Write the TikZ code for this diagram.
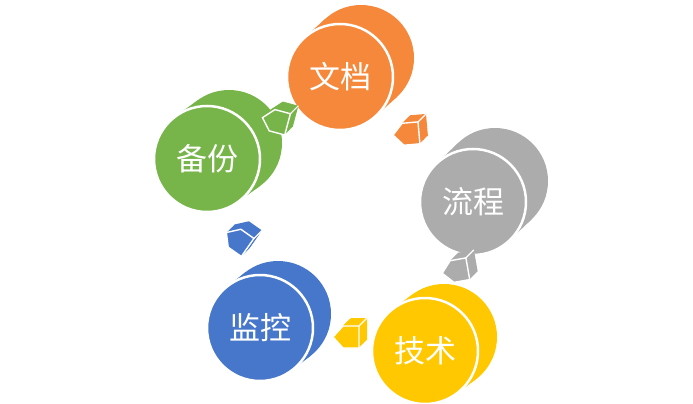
\documentclass[tikz,border=0pt]{standalone}
\usepackage{fontspec}
\newfontfamily\cjk{Noto Sans CJK SC}
\usetikzlibrary{calc}
\definecolor{corange}{HTML}{F5883A}
\definecolor{cgray}{HTML}{ACACAC}
\definecolor{cyellow}{HTML}{FFC800}
\definecolor{cblue}{HTML}{4777CB}
\definecolor{cgreen}{HTML}{77B54A}
\tikzset{
  txt/.style={text=white, font=\cjk\fontsize{31}{31}\selectfont, inner sep=0pt},
  gapline/.style={draw=white, line width=2.5pt},
  arrowgap/.style={draw=white, line width=1.4pt}
}
% #1 name, #2 x, #3 y, #4 dx, #5 dy, #6 colour, #7 text
\newcommand\Disc[7]{%
  \coordinate (#1F) at (#2,#3);
  \coordinate (#1B) at ($(#1F)+(#4,#5)$);
  \fill[#6] (#1B) circle (53pt);
  \fill[#6] ($(#1F)!53pt!90:(#1B)$) -- ($(#1B)!53pt!-90:(#1F)$) -- ($(#1B)!53pt!90:(#1F)$) -- ($(#1F)!53pt!-90:(#1B)$) -- cycle;
  \fill[#6, gapline] (#1F) circle (53pt);
  \node[txt] (#1) at (#1F) {#7};%
}
% #1 name, #2 x, #3 y, #4 angle, #5 colour
\newcommand\BlkArrow[5]{%
  \coordinate (#1) at (#2,#3);
  \foreach \s in {0.1,0.2,...,1.0}{%
    \fill[#5, shift={($(#1)+(\s*8,-\s*8)$)}, rotate=#4] (-13,0) -- (-3,-11) -- (13,-11) -- (13,11) -- (-3,11) -- cycle;
  }
  \fill[#5, arrowgap, shift={(#1)}, rotate=#4] (-13,0) -- (-3,-11) -- (13,-11) -- (13,11) -- (-3,11) -- cycle;
  \path[shift={(#1)}, rotate=#4] (13,-11) coordinate (#1c);
  \draw[white, line width=1.2pt] (#1c) -- ++(8,-8);%
}
\begin{document}
\begin{tikzpicture}[x=1pt, y=-1pt]
\useasboundingbox (0,0) rectangle (693,404);
\clip (0,0) rectangle (693,404);
\Disc{doc}{340}{77}{21}{-19}{corange}{文档}
\Disc{proc}{473}{202}{22}{-21}{cgray}{流程}
\Disc{tech}{425}{351}{19}{-14}{cyellow}{技术}
\Disc{mon}{260}{328}{18}{-14}{cblue}{监控}
\Disc{bak}{207}{159}{22}{-16}{cgreen}{备份}
\BlkArrow{a1}{275}{121}{-15}{cgreen}
\BlkArrow{a2}{406}{134}{5}{corange}
\BlkArrow{a3}{455}{271}{10}{cgray}
\BlkArrow{a4}{346}{337}{0}{cyellow}
\BlkArrow{a5}{237}{240}{-35}{cblue}
\end{tikzpicture}
\end{document}
